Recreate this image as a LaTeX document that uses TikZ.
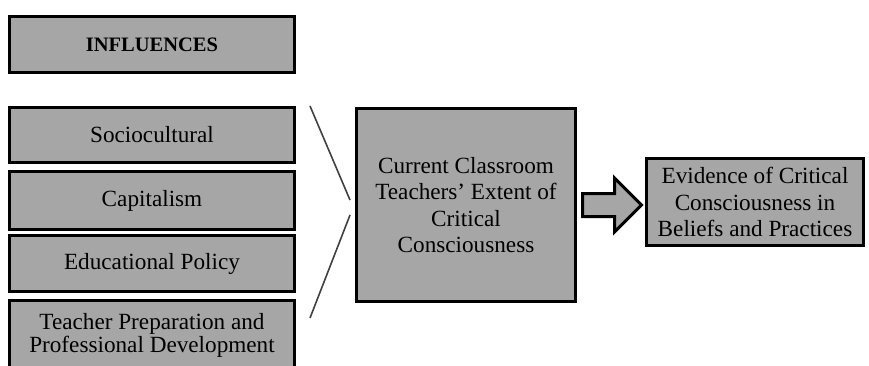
\documentclass[tikz,border=0pt]{standalone}
\usepackage{fontspec}
\setmainfont{Liberation Serif}
\usetikzlibrary{shapes.arrows,calc}
\definecolor{boxgray}{HTML}{A6A6A6}
\definecolor{linegray}{HTML}{404040}
\begin{document}
\begin{tikzpicture}[x=1pt,y=-1pt,
        box/.style={draw=black, line width=3pt, fill=boxgray, align=center, inner sep=2pt,
                    font=\fontsize{23.2}{26.5}\selectfont},
        sidebox/.style={box, minimum width=285pt},
        fatarrow/.style={single arrow, draw=black, line width=3pt, fill=boxgray,
                    inner xsep=0pt, inner ysep=10pt, minimum height=59pt,
                    single arrow head extend=15.5pt},
        funnel/.style={draw=linegray, line width=1.6pt}]
        \useasboundingbox (0,0) rectangle (869,365);

        % 1. Heading box
        \node[sidebox, minimum height=56pt, font=\fontsize{20.5}{24}\selectfont\bfseries] (infl) at (152,44.5) {INFLUENCES};

        % 2. The four influence boxes
        \node[sidebox, minimum height=55pt] (soc) at (152,135) {Sociocultural};
        \node[sidebox, minimum height=58pt] (cap) at (152,200.5) {Capitalism};
        \node[sidebox, minimum height=56pt] (edu) at (152,263.5) {Educational Policy};
        \node[sidebox, minimum height=69pt, font=\fontsize{23.2}{23}\selectfont] (prep) at (152,335)
            {Teacher Preparation and\\Professional Development};

        % 3. Central box and outcome box
        \node[box, minimum width=219pt, minimum height=193pt] (ccc) at (466,205)
            {Current Classroom\\Teachers' Extent of\\Critical\\Consciousness};
        \node[box, minimum width=217pt, minimum height=87pt] (evid) at (755,202)
            {Evidence of Critical\\Consciousness in\\Beliefs and Practices};

        % 4. Block arrow between them
        \node[fatarrow, anchor=tail] (arr) at ($(ccc.east)+(4,0)$) {};

        % 5. Funnel lines
        \coordinate (topa) at (310,106);
        \coordinate (topb) at (350,200);
        \coordinate (bota) at (350,215);
        \coordinate (botb) at (310,318);
        \draw[funnel] (topa) -- (topb);
        \draw[funnel] (bota) -- (botb);
    \end{tikzpicture}
\end{document}
